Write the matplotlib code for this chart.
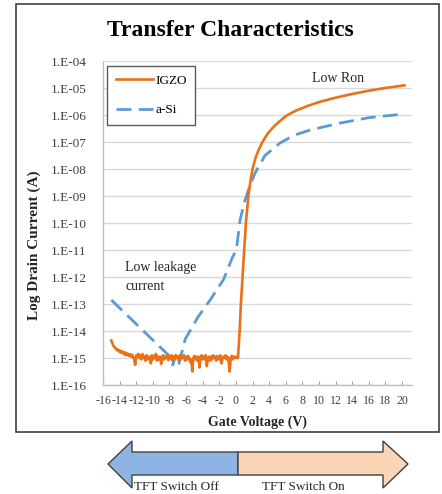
import matplotlib
matplotlib.use("Agg")
import matplotlib.pyplot as plt
from matplotlib.patches import Rectangle, Polygon

# ---------------- data ----------------
# IGZO off-state (noisy floor): gate voltage (V) and log10 drain current (A)
igzo_off_v = [-15.0, -14.875, -14.75, -14.625, -14.5, -14.375, -14.25, -14.125, -14.0, -13.875,
              -13.75, -13.625, -13.5, -13.375, -13.25, -13.125, -13.0, -12.875, -12.75, -12.625,
              -12.5, -12.375, -12.25, -12.125, -12.0, -11.875, -11.75, -11.625, -11.5, -11.375,
              -11.25, -11.125, -11.0, -10.875, -10.75, -10.625, -10.5, -10.375, -10.25, -10.125,
              -10.0, -9.875, -9.75, -9.625, -9.5, -9.375, -9.25, -9.125, -9.0, -8.875,
              -8.75, -8.625, -8.5, -8.375, -8.25, -8.125, -8.0, -7.875, -7.75, -7.625,
              -7.5, -7.375, -7.25, -7.125, -7.0, -6.875, -6.75, -6.625, -6.5, -6.375,
              -6.25, -6.125, -6.0, -5.875, -5.75, -5.625, -5.5, -5.375, -5.25, -5.125,
              -5.0, -4.875, -4.75, -4.625, -4.5, -4.375, -4.25, -4.125, -4.0, -3.875,
              -3.75, -3.625, -3.5, -3.375, -3.25, -3.125, -3.0, -2.875, -2.75, -2.625,
              -2.5, -2.375, -2.25, -2.125, -2.0, -1.875, -1.75, -1.625, -1.5, -1.375,
              -1.25, -1.125, -1.0, -0.875, -0.75, -0.625, -0.5, -0.375, -0.25, -0.125,
              0.0, 0.125]
igzo_off_log = [-14.35, -14.45, -14.55, -14.6, -14.62, -14.7, -14.68, -14.75, -14.72, -14.8,
                -14.74, -14.82, -14.78, -14.88, -14.8, -14.9, -14.84, -14.92, -14.86, -14.95,
                -14.88, -14.97, -15.05, -15.25, -14.9, -14.95, -14.85, -15.0, -14.9, -15.05,
                -14.85, -15.0, -14.95, -15.1, -14.9, -15.05, -14.95, -15.0, -15.2, -14.9,
                -15.05, -14.92, -15.0, -14.85, -15.1, -14.95, -15.05, -14.95, -15.22, -15.0,
                -14.9, -15.05, -14.95, -15.0, -14.88, -15.08, -14.95, -15.02, -14.9, -15.1,
                -14.95, -15.05, -14.9, -15.0, -14.95, -15.1, -14.9, -15.05, -14.95, -15.0,
                -14.9, -15.1, -14.95, -15.05, -14.92, -15.0, -15.15, -15.05, -15.5, -15.0,
                -14.92, -15.05, -14.95, -15.1, -14.95, -15.35, -15.0, -14.9, -15.05, -14.95,
                -15.05, -14.9, -15.3, -15.0, -14.95, -15.1, -14.95, -15.05, -14.9, -15.0,
                -14.95, -15.1, -14.92, -15.0, -15.05, -14.9, -15.2, -15.05, -14.95, -15.0,
                -14.9, -15.05, -14.95, -15.1, -15.5, -15.0, -14.92, -15.05, -14.95, -15.0,
                -14.95, -15.0]
# IGZO on-state branch
igzo_on_v = [0.25, 0.45, 0.6, 0.8, 1.0, 1.2, 1.5, 1.75, 2.0, 2.4, 2.8, 3.2, 3.8, 4.5,
             5.2, 6.1, 7.2, 8.5, 10.0, 12.0, 14.0, 16.0, 18.0, 20.3]
igzo_on_log = [-15.0, -14.0, -13.0, -12.0, -11.0, -10.0, -9.0, -8.45, -8.0, -7.55, -7.25,
               -7.0, -6.7, -6.45, -6.25, -6.02, -5.84, -5.68, -5.52, -5.36, -5.22, -5.1,
               -5.0, -4.9]

# a-Si
asi_v = [-15.0, -8.1, -7.6, -7.25, -6.9, -6.1, -4.6, -3.1, -1.5, -0.4, 0.05, 0.5, 1.0,
         1.5, 2.3, 3.5, 5.3, 7.0, 8.9, 12.5, 16.0, 20.0]
asi_log = [-12.85, -14.9, -15.26, -14.9, -15.26, -14.3, -13.5, -12.85, -12.1, -11.26,
           -11.0, -9.9, -9.25, -8.78, -8.15, -7.5, -7.04, -6.75, -6.56, -6.3, -6.1, -5.97]

x_ticks = list(range(-16, 21, 2))
y_exps = list(range(-16, -3))
y_labels = ["1.E-%02d" % (-e) for e in y_exps]

title = "Transfer Characteristics"
xlabel = "Gate Voltage (V)"
ylabel = "Log Drain Current (A)"
series_names = ["IGZO", "a-Si"]

# ---------------- figure ----------------
W, H = 442, 494
fig = plt.figure(figsize=(W / 100, H / 100), dpi=100)
serif = ["Liberation Serif", "DejaVu Serif"]


def fx(px):
    return px / W


def fy(py):
    return 1 - py / H


# outer frame
fig.patches.append(Rectangle((fx(16), fy(432)), fx(439) - fx(16), fy(4) - fy(432),
                             transform=fig.transFigure, fill=False,
                             edgecolor="#404040", lw=1.2))

ax = fig.add_axes([fx(103), fy(385), fx(412) - fx(103), fy(61) - fy(385)])
orange = "#E8711A"
blue = "#5B9BD5"

igzo_v = igzo_off_v + igzo_on_v
igzo_i = [10.0 ** v for v in igzo_off_log + igzo_on_log]
asi_i = [10.0 ** v for v in asi_log]

ax.plot(igzo_v, igzo_i, color=orange, lw=1.9, label=series_names[0], zorder=3,
        solid_joinstyle="round")
ax.plot(asi_v, asi_i, color=blue, lw=2.0, label=series_names[1], zorder=2,
        dashes=(5.4, 2.6))

ax.set_yscale("log")
ax.set_ylim(1e-16, 1e-4)
ax.set_xlim(-16, 21.2)
ax.set_yticks([10.0 ** e for e in y_exps])
ax.set_yticklabels(y_labels, fontfamily=serif, fontsize=9.5, color="#404040")
ax.minorticks_off()
ax.set_xticks(x_ticks)
ax.set_xticklabels([str(t) for t in x_ticks], fontfamily=serif, fontsize=8.6, color="#404040")
ax.tick_params(axis="y", length=0, pad=12)
ax.tick_params(axis="x", direction="in", length=3, color="#A6A6A6", pad=7)
ax.grid(axis="y", color="#D9D9D9", lw=1.0)
ax.set_axisbelow(True)
for s in ["top", "right"]:
    ax.spines[s].set_visible(False)
for s in ["left", "bottom"]:
    ax.spines[s].set_color("#BFBFBF")
    ax.spines[s].set_linewidth(1.0)

leg = ax.legend(loc="upper left", bbox_to_anchor=(fx(107), fy(66)),
                bbox_transform=fig.transFigure, borderaxespad=0,
                prop={"family": serif, "size": 9.5}, frameon=True, fancybox=False,
                edgecolor="#595959", framealpha=1, labelspacing=1.3,
                handlelength=2.8, handletextpad=0.2, borderpad=0.65)
leg.get_frame().set_linewidth(1.0)

# titles
fig.text(fx(230), fy(30), title, ha="center", va="center", fontfamily=serif,
         fontsize=17, fontweight="bold")
fig.text(fx(257), fy(422), xlabel, ha="center", va="center", fontfamily=serif,
         fontsize=10, fontweight="bold", color="#262626")
fig.text(fx(34), fy(245), ylabel, ha="center", va="center", rotation=90,
         fontfamily=serif, fontsize=11, fontweight="bold", color="#262626")

# annotations
fig.text(fx(338), fy(79), "Low Ron", ha="center", va="center", fontfamily=serif,
         fontsize=10, color="#262626")
fig.text(fx(125), fy(268), "Low leakage", ha="left", va="center", fontfamily=serif,
         fontsize=10, color="#262626")
fig.text(fx(125), fy(287), "current", ha="left", va="center", fontfamily=serif,
         fontsize=10, color="#262626")


# bottom double arrow
def P(pts):
    return [(fx(x), fy(y)) for x, y in pts]


left_poly = P([(238, 452), (132, 452), (132, 441), (108, 464), (132, 488), (132, 475), (238, 475)])
right_poly = P([(238, 452), (383, 452), (383, 441), (408, 464), (383, 488), (383, 475), (238, 475)])
fig.patches.append(Polygon(left_poly, closed=True, transform=fig.transFigure,
                           facecolor="#8EB4E3", edgecolor="#404040", lw=1.0))
fig.patches.append(Polygon(right_poly, closed=True, transform=fig.transFigure,
                           facecolor="#FBD5B5", edgecolor="#404040", lw=1.0))
fig.text(fx(176), fy(493), "TFT Switch Off", ha="center", va="bottom", fontfamily=serif,
         fontsize=9.5, color="#262626")
fig.text(fx(303), fy(493), "TFT Switch On", ha="center", va="bottom", fontfamily=serif,
         fontsize=9.5, color="#262626")

fig.savefig("out.png", dpi=100)
